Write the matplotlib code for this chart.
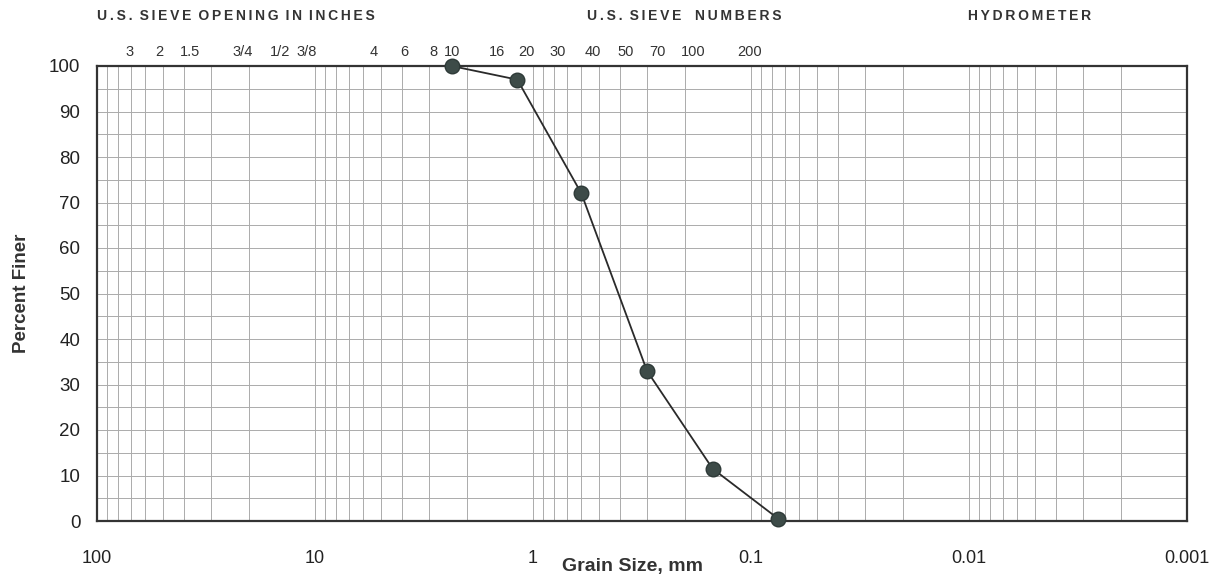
import numpy as np
import matplotlib
matplotlib.use("Agg")
import matplotlib.pyplot as plt
from matplotlib.ticker import FixedLocator, NullFormatter

# ---- data ----
grain_size_mm = [2.36, 1.18, 0.60, 0.30, 0.15, 0.075]
percent_finer = [100, 97, 72, 33, 11.5, 0.5]

x_tick_values = [100, 10, 1, 0.1, 0.01, 0.001]
x_tick_labels = ["100", "10", "1", "0.1", "0.01", "0.001"]
y_tick_values = [0, 10, 20, 30, 40, 50, 60, 70, 80, 90, 100]

# sieve labels along the top, with the grain size (mm) where each label sits
sieve_labels = ["3", "2", "1.5", "3/4", "1/2", "3/8", "4", "6", "8", "10",
                "16", "20", "30", "40", "50", "70", "100", "200"]
sieve_label_mm = [71.0, 52.0, 37.4, 21.5, 14.5, 10.9, 5.4, 3.9, 2.85, 2.35,
                  1.46, 1.07, 0.77, 0.53, 0.375, 0.268, 0.185, 0.102]

header_inches = "U.S. SIEVE OPENING IN INCHES"
header_numbers = "U.S. SIEVE  NUMBERS"
header_hydro = "HYDROMETER"

plt.rcParams['font.family'] = ['Liberation Sans', 'DejaVu Sans']

W, H = 1212, 580
fig = plt.figure(figsize=(W / 100, H / 100), dpi=100)
ax = fig.add_axes([97 / W, 1 - 521 / H, (1187 - 97) / W, (521 - 66) / H])

ax.set_xscale('log')
ax.set_xlim(100, 0.001)
ax.set_ylim(0, 100)

# grid
ax.xaxis.set_major_locator(FixedLocator(x_tick_values))
minor_x = [m * 10.0 ** e for e in range(-3, 2) for m in range(2, 10)]
ax.xaxis.set_minor_locator(FixedLocator(minor_x))
ax.xaxis.set_minor_formatter(NullFormatter())
ax.set_yticks(y_tick_values)
ax.set_yticks(np.arange(5, 100, 10), minor=True)
ax.grid(True, which='both', axis='both', color='#ababab', linewidth=0.7)
ax.set_axisbelow(True)

ax.set_xticklabels(x_tick_labels)
ax.tick_params(axis='both', which='both', length=0)
ax.tick_params(axis='x', pad=21, labelsize=13, labelcolor='#222222')
ax.tick_params(axis='y', pad=12, labelsize=13.5, labelcolor='#222222')

for s in ax.spines.values():
    s.set_color('#333333')
    s.set_linewidth(1.6)

ax.plot(grain_size_mm, percent_finer, color='#2a2a2a', linewidth=1.3,
        marker='o', markersize=10.5, markerfacecolor='#3d4b48',
        markeredgecolor='#2e3a38', markeredgewidth=1, clip_on=False, zorder=5)

trans = ax.get_xaxis_transform()
for lab, mm in zip(sieve_labels, sieve_label_mm):
    ax.text(mm, (521 - 52) / 455, lab, transform=trans, ha='center',
            va='center', fontsize=10.5, color='#333333')


def spaced(s):
    # mimic the wide letter spacing of the scanned headers
    return "\u2009".join(s).replace("\u2009 \u2009", "\u2002")


hdr_kw = dict(ha='center', va='center', fontsize=10, fontweight='bold',
              color='#333333')
fig.text(236 / W, 1 - 16 / H, spaced(header_inches), **hdr_kw)
fig.text(684 / W, 1 - 16 / H, spaced(header_numbers), **hdr_kw)
fig.text(1030 / W, 1 - 16 / H, spaced(header_hydro), **hdr_kw)

fig.text(632 / W, 1 - 567 / H, "Grain Size, mm", ha='center', va='center',
         fontsize=14, fontweight='bold', color='#333333')
fig.text(21 / W, 1 - 293 / H, "Percent Finer", ha='center', va='center',
         rotation=90, fontsize=13.5, fontweight='bold', color='#333333')

fig.savefig("out.png", dpi=100, facecolor='white')
